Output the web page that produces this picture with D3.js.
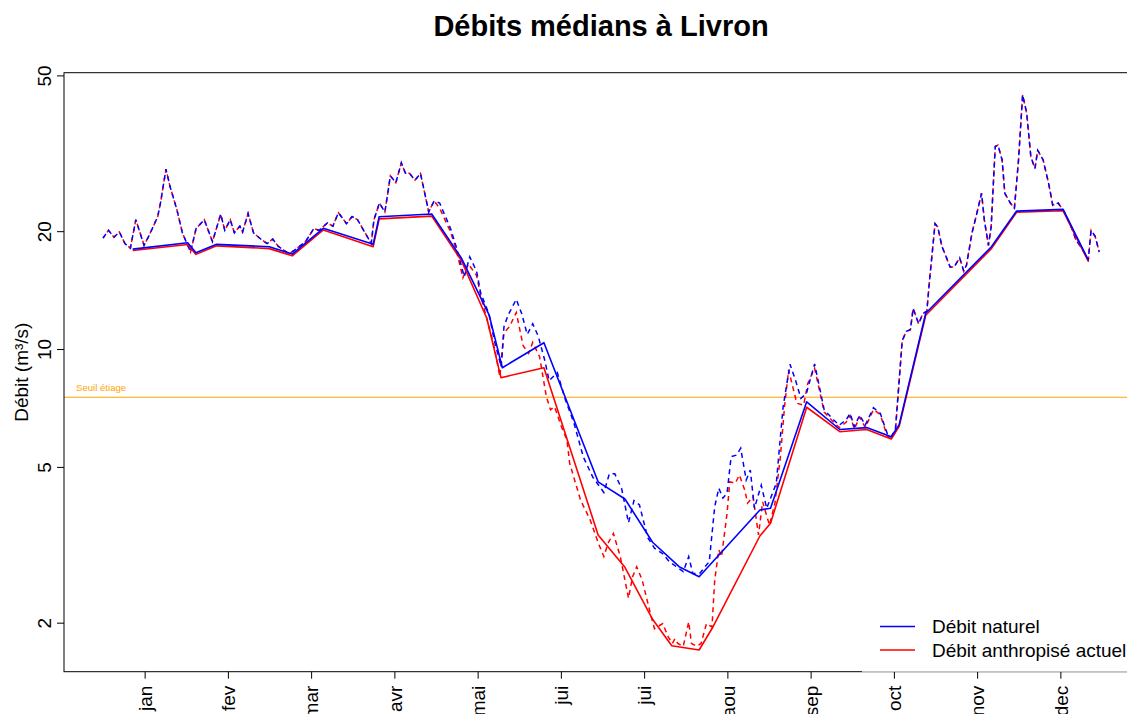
<!DOCTYPE html>
<html>
<head>
<meta charset="utf-8">
<script src="https://cdn.jsdelivr.net/npm/d3@7"></script>
<style>
  body { margin: 0; background: #fff; }
  svg { display: block; }
  text { font-family: "Liberation Sans", Arial, Helvetica, sans-serif; fill: #000; }
</style>
</head>
<body>
<svg id="chart" width="1127" height="714"></svg>
<script>
// Month ticks (mid-month, day of year) and their labels
const moisJours = [15.21, 45.63, 76.04, 106.46, 136.88, 167.29, 197.71, 228.13, 258.54, 288.96, 319.38, 349.79];
const moisLabels = ["jan", "fev", "mar", "avr", "mai", "jui", "jui", "aou", "sep", "oct", "nov", "dec"];
const yTicks = [2, 5, 10, 20, 50];
const seuilEtiage = 7.53;

// Daily medians, natural flow (m3/s)
const journalierJoursNat = [0,2,4,6,8,10,12,15,17,20,
  21,23,24.5,27,29,32,34,37,40,43,
  44.5,46.5,48,50,51,53,55,58,60,62,
  64,68,70,74,77,79,82,84,86,89,
  91,93,98,99,101,103,105,107,109,110.5,
  112,114,116,119,121,123,127,129,132,134,
  136.5,138,141,143,145.5,146.5,148,151,153,155,
  157,159,161.5,163,166,169,172,175.5,179,183,
  185,187,189.5,192,194,196,199,201.5,204.5,207,
  209.5,212,214,215.5,218,220.5,221.5,223.5,225,226.5,
  228,229.5,231.5,233,235,236.5,238,240.5,242.5,246,
  247.5,248.5,251,253,255,257,258.5,260,261.5,263.5,
  267,269,271.5,273,274.5,276.5,278.5,281.5,284,286.5,
  288,289.5,292,293.5,295,296,298,299.5,301,302,
  304,305,306.5,307.5,309.5,311,313,314.5,315.5,317.5,
  319,321,322,323.5,324.5,326,327,328.5,329.5,331.5,
  333,334.5,336,337.5,339,340.5,341.5,343.5,345.5,347,
  349,351.5,354,355.5,358,360,361,362.5,364];
const journalierDebitsNat = [19.2,20.1,19.3,19.9,18.6,18.1,21.4,18.4,19.6,21.8,
  23.6,28.8,26.0,22.7,19.8,17.7,20.3,21.4,18.8,22.1,
  20.1,21.4,19.8,20.6,19.9,22.2,19.8,19.0,18.6,19.1,
  18.3,17.5,17.9,18.8,20.3,20.1,21.0,20.6,22.3,20.9,
  21.8,21.4,18.6,21.4,23.6,22.4,27.7,26.6,29.9,28.1,
  28.1,27.0,28.1,22.4,23.9,23.6,20.3,18.3,15.3,17.2,
  15.8,13.9,12.3,10.5,9.0,11.4,12.2,13.4,12.3,10.9,
  11.6,10.8,9.3,8.3,8.7,7.4,6.5,5.3,4.7,4.3,
  4.8,4.8,4.4,3.6,4.1,4.0,3.3,3.1,3.0,2.86,
  2.78,2.70,2.95,2.67,2.67,2.81,2.86,3.96,4.41,4.16,
  4.28,5.31,5.36,5.58,4.63,4.91,3.92,4.49,3.92,4.54,
  5.97,7.12,9.14,8.33,7.48,7.70,8.41,9.16,8.17,6.99,
  6.59,6.39,6.59,6.85,6.33,6.78,6.39,7.08,6.85,6.09,
  5.97,6.21,10.5,11.1,11.2,12.7,11.6,12.3,12.5,15.0,
  20.9,20.5,18.3,17.6,16.2,16.2,17.1,15.8,16.4,19.8,
  21.8,25.0,21.4,18.4,20.5,32.9,33.2,30.4,25.0,23.6,
  22.9,30.4,44.6,40.0,31.0,28.9,32.2,30.4,26.5,23.3,
  23.6,22.2,20.3,19.0,17.9,16.9,20.1,19.4,17.7];

// Daily medians, current human-influenced flow (m3/s)
const journalierJoursAnt = [0,2,4,6,8,10,12,15,17,20,
  21,23,24.5,27,29,32,34,37,40,43,
  44.5,46.5,48,50,51,53,55,58,60,62,
  64,68,70,74,77,79,82,84,86,89,
  91,93,98,99,101,103,105,107,109,110.5,
  112,114,116,119,121,123,127,129,131.5,133.5,
  136.5,138,143,145,146.5,148.5,151,153.5,155.5,157,
  159.5,162,163.5,165,167.5,169.5,170.5,174.5,178,181,
  183,184.5,186.5,189,192,193.5,195,197,200,201.5,
  203.5,204.5,206.5,208,209,210,212,214,215,217,
  218.5,220.5,222.5,223.5,225,226,228,229,231,232.5,
  234.5,235.5,237.5,239.5,241,243.5,245.5,247.5,249,250.5,
  253.5,256,257.5,260,261.5,263.5,267,269,271.5,273,
  274.5,276.5,278.5,281.5,284,286.5,288,289.5,292,293.5,
  295,296,298,299.5,301,302,304,305,306.5,307.5,
  309.5,311,313,314.5,315.5,317.5,319,321,322,323.5,
  324.5,326,327,328.5,329.5,331.5,333,334.5,336,337.5,
  339,340.5,341.5,343.5,345.5,347,349,351.5,354,355.5,
  358,360,361,362.5,364];
const journalierDebitsAnt = [19.2,20.1,19.3,19.9,18.6,18.1,21.4,18.4,19.6,21.8,
  23.6,28.8,26.0,22.7,19.8,17.7,20.3,21.4,18.8,22.1,
  20.1,21.4,19.8,20.6,19.9,22.2,19.8,19.0,18.6,19.1,
  18.3,17.5,17.9,18.8,20.3,20.1,21.0,20.6,22.3,20.9,
  21.8,21.4,18.6,21.4,23.6,22.4,27.7,26.6,29.9,28.1,
  28.1,27.0,28.1,22.4,23.9,22.9,19.9,18.0,15.2,16.5,
  15.4,13.7,10.1,8.5,11.0,11.4,12.4,10.2,9.75,10.4,
  9.56,7.55,7.0,7.12,6.33,5.86,5.11,4.11,3.66,3.19,
  2.95,3.19,3.38,2.95,2.31,2.62,2.78,2.57,2.11,1.93,
  1.97,1.99,1.84,1.77,1.82,1.77,1.74,2.01,1.77,1.74,
  1.77,1.99,1.95,2.57,3.07,2.95,3.80,4.58,4.54,4.77,
  4.36,4.04,4.20,3.35,4.07,3.55,4.04,5.31,7.12,8.84,
  7.27,7.19,8.17,8.93,8.0,6.9,6.5,6.3,6.5,6.75,
  6.25,6.7,6.3,7.0,6.8,6.0,5.9,6.15,10.5,11.1,
  11.2,12.7,11.6,12.3,12.5,15.0,20.9,20.5,18.3,17.6,
  16.2,16.2,17.1,15.8,16.4,19.8,21.8,25.0,21.4,18.4,
  20.5,32.9,33.2,30.4,25.0,23.6,22.9,30.4,44.6,40.0,
  31.0,28.9,32.2,30.4,26.5,23.3,23.6,22.2,20.3,19.0,
  17.9,16.9,20.1,19.4,17.7];

// Period medians (solid lines)
const periodeJoursNat = [10.85, 30.94, 33.97, 41.5, 60.75, 69.15, 80.5, 98.7, 100.9, 120.1, 131.0, 141.1, 145.9, 161.1, 180.9, 190.7, 200.8, 210.5, 217.8, 240.0, 243.9, 257.1, 269.2, 279.0, 288.0, 290.9, 300.6, 324.6, 333.8, 350.8, 360.0];
const periodeDebitsNat = [18.0, 18.68, 17.62, 18.51, 18.25, 17.48, 20.34, 18.51, 21.77, 22.12, 17.05, 12.21, 8.96, 10.38, 4.58, 4.14, 3.21, 2.78, 2.62, 3.88, 3.92, 7.33, 6.23, 6.30, 5.97, 6.41, 12.34, 18.25, 22.51, 22.74, 16.88];
const periodeJoursAnt = [10.85, 30.94, 33.97, 41.5, 60.75, 69.15, 80.5, 98.7, 100.9, 120.1, 131.0, 140.2, 145.4, 161.1, 180.9, 190.7, 200.8, 207.8, 217.8, 222.9, 240.0, 243.9, 257.1, 269.2, 279.0, 288.0, 290.9, 300.6, 324.6, 333.8, 350.8, 360.0];
const periodeDebitsAnt = [17.85, 18.5, 17.45, 18.35, 18.05, 17.3, 20.15, 18.25, 21.5, 21.85, 16.8, 12.0, 8.45, 8.96, 3.35, 2.77, 2.04, 1.746, 1.703, 1.953, 3.33, 3.59, 7.10, 6.15, 6.23, 5.89, 6.35, 12.2, 18.05, 22.35, 22.55, 16.75];

const couleurNat = "#0000FF";
const couleurAnt = "#FF0000";
const couleurSeuil = "#FFA500";

const svg = d3.select("#chart");
const plot = { left: 64, right: 1141, top: 72.7, bottom: 671.7 };

const x = d3.scaleLinear().domain([-14.25, 379.25]).range([plot.left, plot.right]);
const y = d3.scaleLog().domain([1.499, 50.8]).range([plot.bottom, plot.top]);

svg.append("defs").append("clipPath").attr("id", "zone")
  .append("rect")
  .attr("x", plot.left).attr("y", plot.top)
  .attr("width", plot.right - plot.left).attr("height", plot.bottom - plot.top);

const zone = svg.append("g").attr("clip-path", "url(#zone)");

const ligne = d3.line().x(d => x(d[0])).y(d => y(d[1]));
const paires = (jours, debits) => jours.map((j, i) => [j, debits[i]]);

// Low-flow threshold
zone.append("line")
  .attr("x1", plot.left).attr("x2", plot.right)
  .attr("y1", y(seuilEtiage)).attr("y2", y(seuilEtiage))
  .attr("stroke", couleurSeuil).attr("stroke-width", 1.2);
zone.append("text")
  .attr("x", 76).attr("y", y(seuilEtiage) - 6)
  .attr("font-size", 9.6).style("fill", couleurSeuil)
  .text("Seuil étiage");

// Daily medians (dashed)
zone.append("path")
  .attr("d", ligne(paires(journalierJoursAnt, journalierDebitsAnt)))
  .attr("fill", "none").attr("stroke", couleurAnt).attr("stroke-width", 1.5)
  .attr("stroke-dasharray", "5,4").attr("stroke-dashoffset", 2);
zone.append("path")
  .attr("d", ligne(paires(journalierJoursNat, journalierDebitsNat)))
  .attr("fill", "none").attr("stroke", couleurNat).attr("stroke-width", 1.5)
  .attr("stroke-dasharray", "5,4");

// Period medians (solid)
zone.append("path")
  .attr("d", ligne(paires(periodeJoursAnt, periodeDebitsAnt)))
  .attr("fill", "none").attr("stroke", couleurAnt).attr("stroke-width", 1.6)
  .attr("stroke-linejoin", "round");
zone.append("path")
  .attr("d", ligne(paires(periodeJoursNat, periodeDebitsNat)))
  .attr("fill", "none").attr("stroke", couleurNat).attr("stroke-width", 1.6)
  .attr("stroke-linejoin", "round");

// Frame
svg.append("rect")
  .attr("x", plot.left).attr("y", plot.top)
  .attr("width", plot.right - plot.left).attr("height", plot.bottom - plot.top)
  .attr("fill", "none").attr("stroke", "#000").attr("stroke-width", 1);

// Y axis
const axeY = svg.append("g")
  .attr("transform", `translate(${plot.left},0)`)
  .call(d3.axisLeft(y).tickValues(yTicks).tickFormat(d3.format("d")).tickSize(7).tickPadding(0));
axeY.select(".domain").remove();
axeY.selectAll(".tick line").attr("stroke", "#000");
axeY.selectAll(".tick text")
  .attr("transform", "rotate(-90)")
  .attr("x", 0).attr("y", -13).attr("dy", null)
  .attr("text-anchor", "middle")
  .attr("font-size", 19).attr("font-family", null);

// X axis
const axeX = svg.append("g")
  .attr("transform", `translate(0,${plot.bottom})`)
  .call(d3.axisBottom(x).tickValues(moisJours).tickFormat((d, i) => moisLabels[i]).tickSize(7).tickPadding(0));
axeX.select(".domain").remove();
axeX.selectAll(".tick line").attr("stroke", "#000");
axeX.selectAll(".tick text")
  .attr("transform", "rotate(-90)")
  .attr("x", -14).attr("y", 0).attr("dy", "0.35em")
  .attr("text-anchor", "end")
  .attr("font-size", 19).attr("font-family", null);

// Axis title
svg.append("text")
  .attr("transform", `translate(28,${(plot.top + plot.bottom) / 2}) rotate(-90)`)
  .attr("text-anchor", "middle").attr("font-size", 19)
  .text("Débit (m³/s)");

// Title
svg.append("text")
  .attr("x", 601).attr("y", 36)
  .attr("text-anchor", "middle").attr("font-size", 29).attr("font-weight", "bold")
  .text("Débits médians à Livron");

// Legend
const legende = svg.append("g");
legende.append("rect")
  .attr("x", 862).attr("y", 604)
  .attr("width", 280).attr("height", plot.bottom - 604)
  .attr("fill", "#fff");
const entrees = [
  { label: "Débit naturel", couleur: couleurNat },
  { label: "Débit anthropisé actuel", couleur: couleurAnt }
];
entrees.forEach((e, i) => {
  const yy = 626.5 + i * 23.5;
  legende.append("line")
    .attr("x1", 880).attr("x2", 915).attr("y1", yy).attr("y2", yy)
    .attr("stroke", e.couleur).attr("stroke-width", 1.5);
  legende.append("text")
    .attr("x", 932).attr("y", yy + 6.8)
    .attr("font-size", 19)
    .text(e.label);
});
</script>
</body>
</html>
